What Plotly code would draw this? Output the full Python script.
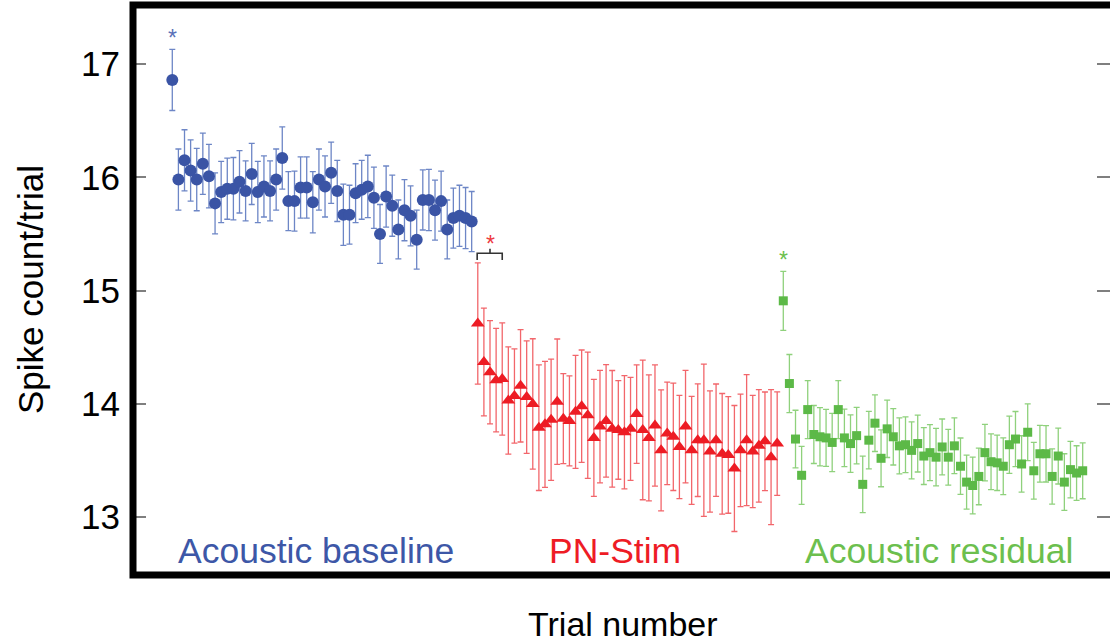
import plotly.graph_objects as go

# Trial numbers for the three phases
trials_baseline = list(range(1, 51))
trials_stim = list(range(51, 101))
trials_residual = list(range(101, 151))

# Mean spike count per trial
baseline_mean = [16.86, 15.98, 16.15, 16.06, 15.98, 16.12, 16.01, 15.77, 15.87, 15.90,
                 15.90, 15.96, 15.88, 16.03, 15.87, 15.92, 15.88, 15.98, 16.17, 15.79,
                 15.79, 15.91, 15.91, 15.78, 15.98, 15.92, 16.04, 15.88, 15.67, 15.67,
                 15.86, 15.89, 15.92, 15.82, 15.50, 15.83, 15.75, 15.54, 15.71, 15.66,
                 15.45, 15.80, 15.80, 15.71, 15.79, 15.54, 15.64, 15.66, 15.64, 15.61]
baseline_err = [0.27, 0.27, 0.27, 0.27, 0.275, 0.27, 0.28, 0.27, 0.27, 0.27,
                0.275, 0.275, 0.265, 0.27, 0.27, 0.27, 0.265, 0.27, 0.275, 0.26,
                0.265, 0.27, 0.27, 0.27, 0.27, 0.27, 0.27, 0.27, 0.27, 0.26,
                0.26, 0.26, 0.275, 0.27, 0.26, 0.27, 0.27, 0.26, 0.27, 0.265,
                0.26, 0.265, 0.27, 0.265, 0.265, 0.26, 0.265, 0.27, 0.27, 0.265]

stim_mean = [14.71, 14.37, 14.28, 14.21, 14.22, 14.03, 14.07, 14.16, 14.06, 14.00,
             13.79, 13.82, 13.86, 14.02, 13.87, 13.85, 13.93, 13.98, 13.90, 13.70,
             13.80, 13.85, 13.78, 13.77, 13.75, 13.78, 13.91, 13.77, 13.70, 13.81,
             13.59, 13.74, 13.71, 13.62, 13.80, 13.59, 13.68, 13.68, 13.58, 13.68,
             13.56, 13.55, 13.43, 13.59, 13.68, 13.58, 13.63, 13.67, 13.53, 13.65]
stim_err = [0.535, 0.475, 0.456, 0.456, 0.496, 0.474, 0.416, 0.496, 0.497, 0.575,
            0.554, 0.556, 0.535, 0.553, 0.397, 0.397, 0.499, 0.496, 0.557, 0.516,
            0.496, 0.497, 0.515, 0.435, 0.500, 0.455, 0.434, 0.616, 0.556, 0.535,
            0.534, 0.453, 0.474, 0.456, 0.496, 0.476, 0.497, 0.672, 0.535, 0.496,
            0.532, 0.515, 0.556, 0.496, 0.578, 0.496, 0.496, 0.435, 0.596, 0.457]

residual_mean = [14.91, 14.18, 13.69, 13.37, 13.95, 13.73, 13.71, 13.70, 13.66, 13.95,
                 13.70, 13.65, 13.72, 13.29, 13.68, 13.83, 13.52, 13.78, 13.71, 13.63,
                 13.64, 13.59, 13.65, 13.54, 13.57, 13.53, 13.62, 13.53, 13.63, 13.45,
                 13.31, 13.28, 13.36, 13.57, 13.49, 13.48, 13.45, 13.64, 13.69, 13.47,
                 13.75, 13.41, 13.56, 13.56, 13.36, 13.54, 13.31, 13.42, 13.39, 13.41]
residual_err = [0.26, 0.256, 0.254, 0.256, 0.256, 0.256, 0.257, 0.251, 0.257, 0.256,
                0.254, 0.254, 0.25, 0.25, 0.254, 0.25, 0.251, 0.253, 0.249, 0.247,
                0.246, 0.251, 0.251, 0.251, 0.247, 0.254, 0.247, 0.246, 0.246, 0.249,
                0.238, 0.25, 0.25, 0.25, 0.246, 0.244, 0.25, 0.253, 0.243, 0.249,
                0.251, 0.25, 0.25, 0.249, 0.244, 0.247, 0.25, 0.249, 0.241, 0.247]

y_ticks = [13, 14, 15, 16, 17]
phase_labels = ["Acoustic baseline", "PN-Stim", "Acoustic residual"]

BLUE, BLUE_BAR = "#3a54a5", "#6d86c6"
RED, RED_BAR = "#ed1c24", "#f2666b"
GREEN, GREEN_BAR = "#5cb947", "#8fd17c"
FONT = "Liberation Sans, Arial, sans-serif"

fig = go.Figure()


def add_phase(x, y, err, marker_symbol, size, color, bar_color):
    fig.add_trace(go.Scatter(
        x=x, y=y, mode="markers",
        marker=dict(symbol=marker_symbol, size=size, color=color, line=dict(width=0)),
        error_y=dict(type="data", array=err, visible=True, color=bar_color,
                     thickness=1.3, width=3),
        showlegend=False, hoverinfo="x+y",
    ))


add_phase(trials_baseline, baseline_mean, baseline_err, "circle", 12, BLUE, BLUE_BAR)
add_phase(trials_stim, stim_mean, stim_err, "triangle-up", 12, RED, RED_BAR)
add_phase(trials_residual, residual_mean, residual_err, "square", 9, GREEN, GREEN_BAR)

annotations = []

# significance asterisks
for xv, yv, col, shift in [(trials_baseline[0], baseline_mean[0] + baseline_err[0], "#5a70b8", -4),
                           (53, stim_mean[0] + stim_err[0], "#ee3a3f", 4),
                           (trials_residual[0], residual_mean[0] + residual_err[0], "#6cbf4e", -4)]:
    annotations.append(dict(x=xv, y=yv, xref="x", yref="y", text="*", showarrow=False,
                            font=dict(family=FONT, size=23, color=col),
                            yanchor="bottom", yshift=shift))

# phase labels along the bottom of the panel
label_x = [24.6, 73.5, 126.5]
label_col = ["#3d57a7", "#ee1c25", "#6cbf4e"]
for lx, txt, col in zip(label_x, phase_labels, label_col):
    annotations.append(dict(x=lx, y=12.70, xref="x", yref="y", text=txt, showarrow=False,
                            font=dict(family=FONT, size=35.5, color=col),
                            xanchor="center", yanchor="middle"))

# axis titles
annotations.append(dict(x=-0.1054, y=0.5, xref="paper", yref="paper",
                        text="Spike count/trial", textangle=-90, showarrow=False,
                        font=dict(family=FONT, size=35, color="black"),
                        xanchor="center", yanchor="middle"))
annotations.append(dict(x=0.502, y=-0.086, xref="paper", yref="paper",
                        text="Trial number", showarrow=False,
                        font=dict(family=FONT, size=34, color="black"),
                        xanchor="center", yanchor="middle"))

shapes = [
    # bracket over the first stimulation trials
    dict(type="path", xref="x", yref="y",
         path="M 50.9,15.27 L 50.9,15.33 L 55,15.33 L 55,15.27 M 53,15.33 L 53,15.37",
         line=dict(color="#333333", width=1.6)),
    # heavy frame (right side falls outside the page)
    dict(type="rect", xref="paper", yref="paper", x0=0, x1=1.05, y0=0, y1=1,
         line=dict(color="black", width=7), layer="above"),
]

fig.update_layout(
    width=1110, height=643,
    margin=dict(l=133, r=0, t=5, b=68),
    paper_bgcolor="white", plot_bgcolor="white",
    annotations=annotations, shapes=shapes,
    xaxis=dict(range=[-5.43, 154.47], showgrid=False, zeroline=False,
               showticklabels=False, ticks="", showline=False),
    yaxis=dict(range=[12.49, 17.521], tickvals=y_ticks, ticktext=[str(t) for t in y_ticks],
               showgrid=False, zeroline=False, showline=False,
               ticks="inside", ticklen=13, tickwidth=2, tickcolor="#7f7f7f",
               mirror="ticks", ticklabelstandoff=12,
               tickfont=dict(family=FONT, size=35, color="black")),
)

fig.write_html("out.html")
